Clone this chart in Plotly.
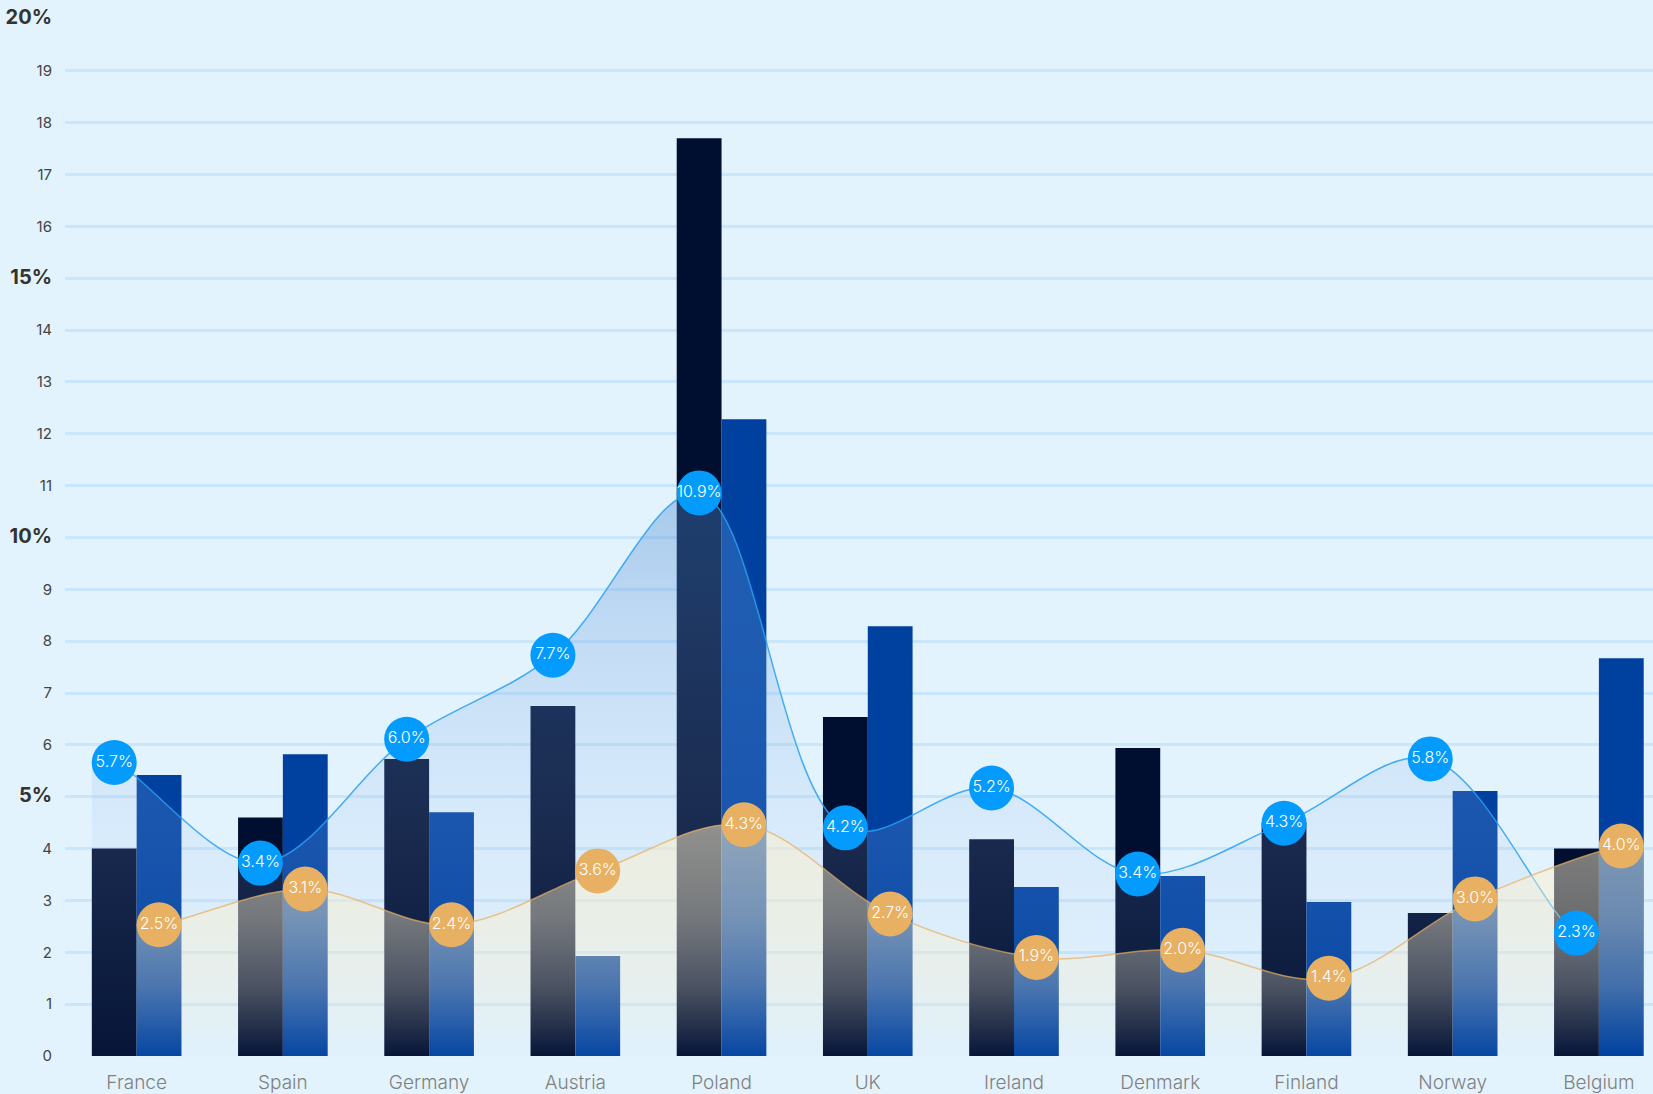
import plotly.graph_objects as go

countries = ["France", "Spain", "Germany", "Austria", "Poland", "UK",
             "Ireland", "Denmark", "Finland", "Norway", "Belgium"]
dark_bars = [4.0, 4.6, 5.73, 6.75, 17.7, 6.54, 4.18, 5.94, 4.5, 2.76, 4.0]
blue_bars = [5.42, 5.82, 4.7, 1.93, 12.28, 8.29, 3.26, 3.47, 2.97, 5.11, 7.67]

blue_line = [5.66, 3.72, 6.11, 7.73, 10.86, 4.40, 5.17, 3.51, 4.49, 5.73, 2.37]
blue_labels = ["5.7%", "3.4%", "6.0%", "7.7%", "10.9%", "4.2%", "5.2%", "3.4%", "4.3%", "5.8%", "2.3%"]
orange_line = [2.53, 3.22, 2.53, 3.57, 4.46, 2.74, 1.90, 2.04, 1.50, 3.03, 4.05]
orange_labels = ["2.5%", "3.1%", "2.4%", "3.6%", "4.3%", "2.7%", "1.9%", "2.0%", "1.4%", "3.0%", "4.0%"]

y_ticks = list(range(0, 21))
major_ticks = [5, 10, 15, 20]

BG = "#E3F3FD"
DARK = "#000E30"
BLUE = "#0041A0"
MARK_BLUE = "#049BFE"
MARK_ORANGE = "#E8B062"
FONT = "Inter"

BARGAP = 0.387
half = (1 - BARGAP) / 4

idx = list(range(len(countries)))
xb = [i - half for i in idx]
xo = [i + half for i in idx]

def extend(xs, ys):
    return [xs[0] - half] + xs + [xs[-1] + half], [ys[0]] + ys + [ys[-1]]

xbf, ybf = extend(xb, blue_line)
xof, yof = extend(xo, orange_line)

fig = go.Figure()
fig.add_trace(go.Bar(x=idx, y=dark_bars, marker=dict(color=DARK, line=dict(width=0)),
                     hoverinfo="skip"))
fig.add_trace(go.Bar(x=idx, y=blue_bars, marker=dict(color=BLUE, line=dict(width=0)),
                     hoverinfo="skip"))

fig.add_trace(go.Scatter(
    x=xbf, y=ybf, mode="lines", line=dict(shape="spline", smoothing=1.0,
                                          color="rgba(40,160,245,0.85)", width=1.5),
    fill="tozeroy",
    fillgradient=dict(type="vertical", start=0, stop=11,
                      colorscale=[[0.0, "rgba(160,195,240,0.04)"],
                                  [0.39, "rgba(160,192,242,0.16)"],
                                  [0.64, "rgba(120,168,228,0.24)"],
                                  [1.0, "rgba(72,135,205,0.40)"]]),
    hoverinfo="skip"))
fig.add_trace(go.Scatter(
    x=xof, y=yof, mode="lines", line=dict(shape="spline", smoothing=1.0,
                                          color="rgba(232,175,95,0.7)", width=1.5),
    fill="tozeroy",
    fillgradient=dict(type="vertical", start=0, stop=4.5,
                      colorscale=[[0.0, "rgba(255,240,200,0.0)"],
                                  [0.3, "rgba(255,240,200,0.26)"],
                                  [0.6, "rgba(255,240,200,0.42)"],
                                  [1.0, "rgba(255,240,200,0.52)"]]),
    hoverinfo="skip"))

fig.add_trace(go.Scatter(
    x=xb, y=blue_line, mode="markers+text", text=blue_labels,
    textposition="middle center",
    textfont=dict(family=FONT, size=16, color="white", weight=300),
    marker=dict(size=45, color=MARK_BLUE, line=dict(width=0)),
    hoverinfo="skip"))
fig.add_trace(go.Scatter(
    x=xo, y=orange_line, mode="markers+text", text=orange_labels,
    textposition="middle center",
    textfont=dict(family=FONT, size=16, color="white", weight=300),
    marker=dict(size=45, color=MARK_ORANGE, line=dict(width=0)),
    hoverinfo="skip"))

y_text = []
for v in y_ticks:
    if v in major_ticks:
        y_text.append("<b><span style='font-size:20px;color:#333333'>%d%%</span></b>" % v)
    else:
        y_text.append(str(v))

fig.update_layout(
    template="none",
    width=1653, height=1094,
    margin=dict(l=65, r=0, t=19, b=38, pad=0),
    paper_bgcolor=BG, plot_bgcolor=BG,
    barmode="group", bargap=BARGAP, bargroupgap=0,
    showlegend=False,
    font=dict(family=FONT),
    xaxis=dict(range=[-0.49, 10.37], tickvals=idx, ticktext=countries,
               showgrid=False, zeroline=False, showline=False, ticks="",
               tickfont=dict(family=FONT, size=19, color="#808080", weight=300),
               ticklabelstandoff=13, automargin=False, fixedrange=True),
    yaxis=dict(range=[0, 20], tickvals=y_ticks, ticktext=y_text,
               showgrid=True, gridcolor="#C9E6FA", gridwidth=3,
               zeroline=False, showline=False, ticks="",
               tickfont=dict(family=FONT, size=15, color="#444444"),
               ticklabelstandoff=12, automargin=False, fixedrange=True),
)

fig.write_html("out.html", config={"displayModeBar": False},
               post_script="document.body.style.margin='0';document.body.style.overflow='hidden';")
